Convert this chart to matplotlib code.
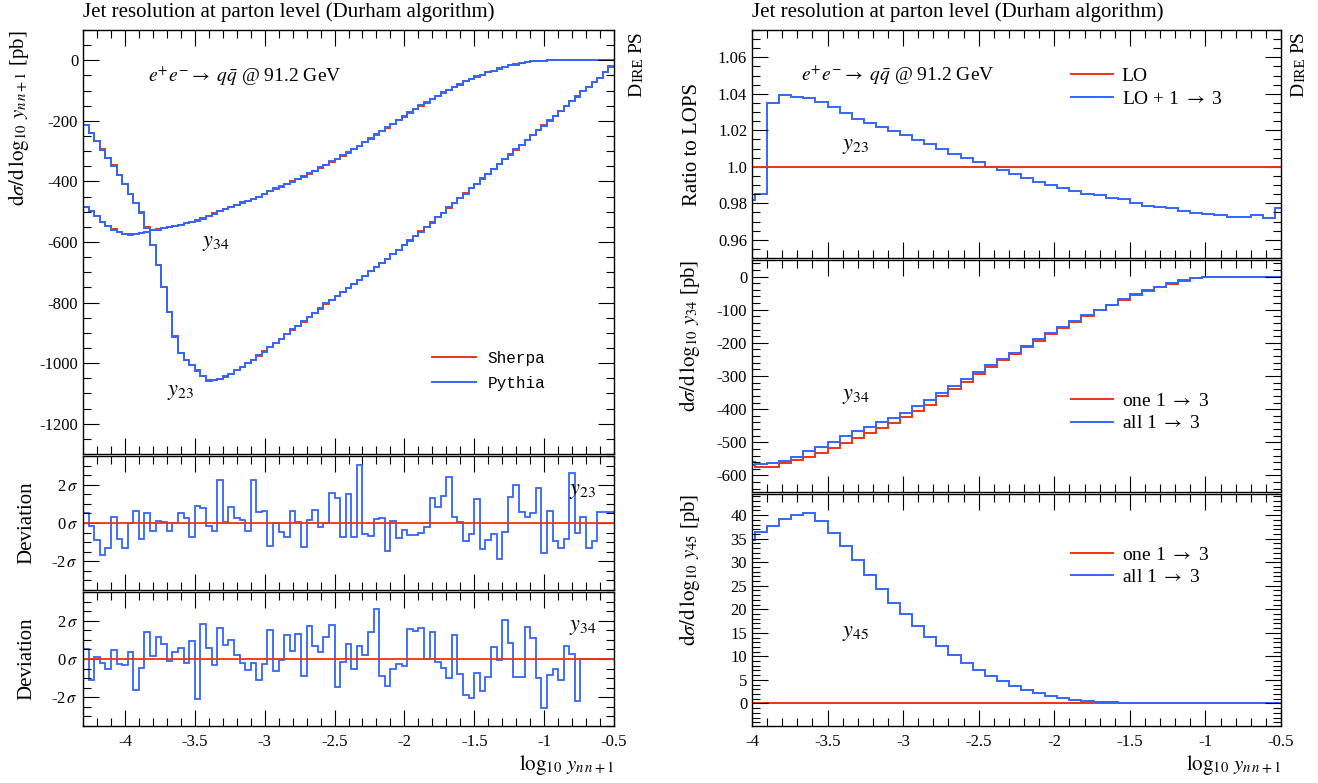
import numpy as np
import matplotlib
matplotlib.use("Agg")
import matplotlib.pyplot as plt
from matplotlib.ticker import MultipleLocator, FuncFormatter
from matplotlib.lines import Line2D

plt.rcParams["font.family"] = ["Liberation Serif", "DejaVu Serif"]
plt.rcParams["mathtext.fontset"] = "stix"
plt.rcParams["axes.unicode_minus"] = False
plt.rcParams["xtick.direction"] = "in"
plt.rcParams["ytick.direction"] = "in"
plt.rcParams["xtick.top"] = True
plt.rcParams["ytick.right"] = True
plt.rcParams["xtick.minor.visible"] = True
plt.rcParams["ytick.minor.visible"] = True
plt.rcParams["xtick.major.size"] = 11.5
plt.rcParams["ytick.major.size"] = 11.5
plt.rcParams["xtick.minor.size"] = 5.8
plt.rcParams["ytick.minor.size"] = 5.8

RED = "#ee3311"
BLUE = "#3366ff"

# ---- left column: Sherpa vs Pythia, 0.04 wide bins from -4.3 to -0.5 ----
left_range = (-4.3, -0.5)
y23_sherpa = [
    -215, -240, -267, -294, -322, -347, -379, -407, -442, -470, -503, -552, -610, -676, -750, -832,
    -912, -967, -988, -1007, -1024, -1044, -1057, -1057, -1053, -1046, -1035, -1022, -1013, -1000,
    -988, -975, -961, -947, -933, -920, -903, -889, -876, -863, -848, -834, -819, -804, -791,
    -778, -765, -752, -738, -725, -711, -697, -683, -669, -655, -640, -625, -610, -595, -580,
    -565, -550, -535, -519, -503, -487, -471, -455, -439, -423, -407, -391, -375, -359, -343,
    -327, -311, -295, -279, -263, -247, -231, -215, -199, -183, -167, -151, -135, -119, -103,
    -87, -72, -57, -40, -20,
]
y34_sherpa = [
    -486, -497, -514, -534, -547, -558, -567, -574, -576, -574, -571, -567, -562, -558, -555,
    -551, -547, -543, -538, -534, -530, -522, -514, -505, -498, -491, -484, -477, -470, -464,
    -458, -452, -442, -432, -424, -416, -408, -400, -392, -383, -374, -365, -355, -345, -335,
    -325, -315, -304, -293, -282, -270, -258, -246, -234, -222, -209, -197, -185, -173, -161,
    -150, -139, -128, -117, -107, -97, -88, -79, -70, -62, -54, -47, -40, -34, -28,
    -22, -17, -13, -9, -6, -4, -2, -1, 0, 0, 0, 0, 0, 0, 0,
    0, 0, 0, 0, 0,
]
# Pythia agrees with Sherpa within the statistical deviation shown below
y23_pythia = [
    -213, -241, -266, -295, -321, -348, -378, -408, -441, -471, -502, -553, -609, -677, -749, -831,
    -913, -966, -989, -1006, -1025, -1043, -1058, -1056, -1054, -1044, -1036, -1021, -1014, -999,
    -989, -974, -962, -946, -934, -919, -904, -888, -877, -862, -849, -833, -820, -803, -792,
    -777, -766, -751, -739, -724, -712, -696, -684, -668, -656, -639, -626, -609, -596, -579,
    -566, -549, -536, -518, -504, -486, -472, -454, -440, -422, -408, -390, -376, -358, -344,
    -326, -312, -294, -280, -262, -248, -230, -216, -198, -184, -166, -152, -134, -120, -102,
    -88, -71, -58, -39, -21,
]
y34_pythia = [
    -485, -498, -513, -535, -546, -559, -566, -575, -575, -575, -570, -568, -561, -559, -554,
    -552, -546, -544, -537, -535, -529, -523, -513, -506, -497, -492, -483, -478, -469, -465,
    -457, -453, -441, -433, -423, -417, -407, -401, -391, -384, -373, -366, -354, -346, -334,
    -326, -314, -305, -292, -283, -269, -259, -245, -235, -221, -210, -196, -186, -172, -162,
    -149, -140, -127, -118, -106, -98, -87, -80, -69, -63, -53, -48, -39, -35, -27,
    -23, -16, -14, -8, -7, -3, -2, -1, 0, 0, 0, 0, 0, 0, 0,
    0, 0, 0, 0, 0,
]
dev_y23 = [
    0.53, -0.18, -0.88, -1.66, -1.31, 0.32, -0.83, -1.31, 0.0, 0.62, -0.83, 0.50, -0.44, 0.11,
    0.05, -0.44, 0.0, 0.50, 0.28, -0.71, 0.88, 0.76, -0.18, -0.44, 2.27, 0.05, 0.81, 0.27, 0.14,
    -0.44, 2.23, 0.58, 0.64, -1.19, 0.0, -0.48, -0.71, 0.64, 0.05, -1.27, 0.14, 0.67, -0.21, 0.0,
    1.59, 1.29, -0.74, 1.52, -0.74, 3.01, -0.60, -0.69, 0.19, 0.27, -1.45, 0.11, -0.80, -0.39,
    -0.65, -0.65, -0.53, -0.21, 1.29, 0.85, 1.42, 2.39, 0.32, 0.05, -0.96, -0.60, 1.27, -1.36,
    -0.88, -0.57, -1.89, -0.48, 1.38, 1.96, 0.58, 0.32, 0.50, 1.82, -1.59, 0.64, -0.96, -1.31,
    -0.83, 2.62, -0.53, 0.32, -1.31, -0.96, 0.55, 0.55, 0.55,
]
dev_y34 = [
    0.52, -1.11, 0.10, -0.21, -0.50, 0.49, -0.24, -0.30, 0.37, -1.63, -0.47, 1.39, 0.14, 1.15,
    0.80, -0.09, 0.37, 0.56, -0.21, 0.96, -2.09, 1.81, 0.57, -0.33, 1.63, 0.75, 0.99, 0.23, -0.21,
    -0.56, -0.21, -1.10, -0.24, 1.51, -0.64, -0.03, 1.25, 0.40, 1.30, -0.90, 1.72, 0.70, 0.37,
    1.17, 1.77, -1.48, -0.16, 0.77, -0.54, 0.70, 0.23, 1.41, 2.61, -0.87, -1.39, -0.50, -0.26,
    -0.37, 1.57, 1.46, 1.62, -0.02, 1.39, -0.17, -0.49, -0.99, 1.27, -0.78, -1.88, -2.05, -0.75,
    -1.67, -0.92, 0.64, -0.05, 2.03, 0.83, -0.96, -0.96, 1.69, 1.11, -0.99, -2.56, -0.82, -0.50,
    -1.10, 0.70, 0.28, -2.19, 0.0, 0.0, 0.0, 0.0, 0.0, 0.0,
]

# ---- right column: 0.08 wide bins starting at -4.06 ----
right_start, right_width = -4.06, 0.08
ratio_lo13 = [
    0.982, 0.985, 1.035, 1.0395, 1.0385, 1.0378, 1.0354, 1.0327, 1.0294, 1.0264, 1.024, 1.0218,
    1.0196, 1.0173, 1.0149, 1.0124, 1.0096, 1.0069, 1.0046, 1.0027, 1.0, 0.9982, 0.996, 0.994,
    0.9918, 0.990, 0.9882, 0.9869, 0.9851, 0.9846, 0.9828, 0.9822, 0.9804, 0.9786, 0.9782,
    0.9773, 0.976, 0.9749, 0.9742, 0.9735, 0.9727, 0.9724, 0.9737, 0.9717, 0.9773,
]
y34_one = [
    -569, -574, -574, -564, -554, -544, -531, -516, -501, -486, -472, -457, -442, -424, -406,
    -386, -360, -338, -317, -295, -273, -253, -235, -214, -193, -174, -156, -136, -120, -102,
    -87, -71, -57, -44, -32, -21, -12, -5, -1, 0, 0, 0, 0, 0, 0,
]
y34_all = [
    -559, -567, -564, -556, -544, -527, -513, -498, -481, -467, -455, -440, -427, -411, -391,
    -372, -350, -330, -309, -289, -268, -248, -230, -209, -189, -171, -151, -134, -117, -100,
    -85, -69, -54, -42, -31, -20, -11, -5, -1, 0, 0, 0, 0, 0, 0,
]
y45_one = [0.0] * 45
y45_all = [
    34.7, 36.5, 37.8, 39.1, 40.0, 40.5, 38.7, 36.2, 33.5, 30.4, 27.2, 24.3, 21.4, 18.9, 16.4,
    14.2, 12.1, 10.3, 8.5, 7.1, 5.8, 4.7, 3.8, 2.9, 2.2, 1.65, 1.15, 0.8, 0.5, 0.36,
    0.2, 0.14, 0.07, 0.04, 0.02, 0.01, 0, 0, 0, 0, 0, 0, 0, 0, 0,
]

TITLE = "Jet resolution at parton level (Durham algorithm)"
PROCESS = r"$e^{+}e^{-}\rightarrow\ q\bar{q}$ @ 91.2 GeV"
XLABEL = r"$\log_{10}\,y_{n\,n+1}$"


def left_edges(vals):
    return np.linspace(left_range[0], left_range[1], len(vals) + 1)


def right_edges(vals):
    return right_start + right_width * np.arange(len(vals) + 1)


W, H = 1318, 783
fig = plt.figure(figsize=(W / 100, H / 100), dpi=100)


def box(x0, y0, x1, y1):
    # pixel box (top-left origin) -> figure fraction
    return [x0 / W, 1 - y1 / H, (x1 - x0) / W, (y1 - y0) / H]


ax_l = fig.add_axes(box(83, 30, 614, 454))
ax_d1 = fig.add_axes(box(83, 456, 614, 590))
ax_d2 = fig.add_axes(box(83, 592, 614, 726))
ax_r1 = fig.add_axes(box(752, 30, 1281, 258))
ax_r2 = fig.add_axes(box(752, 260, 1281, 492))
ax_r3 = fig.add_axes(box(752, 494, 1281, 726))

TICK_FS = 12
LAB_FS = 15
gfmt = FuncFormatter(lambda v, _: "%g" % v)
for ax in (ax_l, ax_d1, ax_d2):
    ax.set_xlim(*left_range)
for ax in (ax_r1, ax_r2, ax_r3):
    ax.set_xlim(-4.0, -0.5)
for ax in (ax_l, ax_d1, ax_d2, ax_r1, ax_r2, ax_r3):
    ax.xaxis.set_major_locator(MultipleLocator(0.5))
    ax.xaxis.set_minor_locator(MultipleLocator(0.1))
    ax.xaxis.set_major_formatter(gfmt)
    ax.tick_params(labelsize=TICK_FS, width=0.8, which="both")
    ax.tick_params(axis="x", pad=6)
    for s in ax.spines.values():
        s.set_linewidth(1.0)
for ax in (ax_l, ax_d1, ax_r1, ax_r2):
    ax.tick_params(labelbottom=False)

# ---- left top ----
ax_l.stairs(y23_sherpa, left_edges(y23_sherpa), color=RED, lw=1.4, baseline=None)
ax_l.stairs(y34_sherpa, left_edges(y34_sherpa), color=RED, lw=1.4, baseline=None)
ax_l.stairs(y23_pythia, left_edges(y23_pythia), color=BLUE, lw=1.4, baseline=None)
ax_l.stairs(y34_pythia, left_edges(y34_pythia), color=BLUE, lw=1.4, baseline=None)
ax_l.set_ylim(-1300, 100)
ax_l.yaxis.set_major_locator(MultipleLocator(200))
ax_l.yaxis.set_minor_locator(MultipleLocator(50))
ax_l.yaxis.set_major_formatter(gfmt)
ax_l.set_ylabel(r"$\mathrm{d}\sigma/\mathrm{d}\,\log_{10}\,y_{n\,n+1}$ [pb]", fontsize=LAB_FS, loc="top")
ax_l.yaxis.set_label_coords(-0.097, 1.0)
ax_l.text(0.122, 0.89, PROCESS, transform=ax_l.transAxes, fontsize=14, va="center")
ax_l.text(0.225, 0.497, r"$y_{34}$", transform=ax_l.transAxes, fontsize=16, va="center")
ax_l.text(0.158, 0.145, r"$y_{23}$", transform=ax_l.transAxes, fontsize=16, va="center")
mono = {"family": ["Liberation Mono", "DejaVu Sans Mono"], "size": 11.5}
ax_l.legend(handles=[Line2D([], [], color=RED, lw=1.4), Line2D([], [], color=BLUE, lw=1.4)],
            labels=["Sherpa", "Pythia"], prop=mono, frameon=False, loc="upper left",
            bbox_to_anchor=(0.658, 0.243), borderpad=0, borderaxespad=0,
            handlelength=2.75, handletextpad=0.7, labelspacing=0.6)

# ---- deviations ----
sig_fmt = FuncFormatter(lambda v, _: "%g$\\,\\sigma$" % v)
for ax, dev, lab in ((ax_d1, dev_y23, r"$y_{23}$"), (ax_d2, dev_y34, r"$y_{34}$")):
    ax.stairs(dev, left_edges(dev), color=BLUE, lw=1.3, baseline=None)
    ax.axhline(0, color=RED, lw=1.3)
    ax.set_ylim(-3.5, 3.5)
    ax.yaxis.set_major_locator(MultipleLocator(2))
    ax.yaxis.set_minor_locator(MultipleLocator(0.5))
    ax.yaxis.set_major_formatter(sig_fmt)
    ax.set_ylabel("Deviation", fontsize=LAB_FS)
    ax.yaxis.set_label_coords(-0.087, 0.5)
    ax.text(0.915, 0.735, lab, transform=ax.transAxes, fontsize=16, va="center")
ax_d2.set_xlabel(XLABEL, fontsize=LAB_FS, loc="right", labelpad=2)

# ---- right top: ratio ----
ax_r1.stairs(ratio_lo13, right_edges(ratio_lo13), color=BLUE, lw=1.4, baseline=None)
ax_r1.axhline(1.0, color=RED, lw=1.4)
ax_r1.set_ylim(0.95, 1.075)
ax_r1.yaxis.set_major_locator(MultipleLocator(0.02))
ax_r1.yaxis.set_minor_locator(MultipleLocator(0.005))


def ratio_label(v, _):
    s = "%.2f" % v
    return s[:-1] if s.endswith("0") else s


ax_r1.yaxis.set_major_formatter(FuncFormatter(ratio_label))
ax_r1.set_ylabel("Ratio to LOPS", fontsize=LAB_FS)
ax_r1.yaxis.set_label_coords(-0.095, 0.5)
ax_r1.text(0.093, 0.80, PROCESS, transform=ax_r1.transAxes, fontsize=14, va="center")
ax_r1.text(0.17, 0.49, r"$y_{23}$", transform=ax_r1.transAxes, fontsize=16, va="center")

# ---- right middle / bottom ----
ax_r2.stairs(y34_one, right_edges(y34_one), color=RED, lw=1.4, baseline=None)
ax_r2.stairs(y34_all, right_edges(y34_all), color=BLUE, lw=1.4, baseline=None)
ax_r2.set_ylim(-650, 50)
ax_r2.yaxis.set_major_locator(MultipleLocator(100))
ax_r2.yaxis.set_minor_locator(MultipleLocator(20))
ax_r2.yaxis.set_major_formatter(gfmt)
ax_r2.set_ylabel(r"$\mathrm{d}\sigma/\mathrm{d}\,\log_{10}\,y_{34}$ [pb]", fontsize=LAB_FS, loc="top")
ax_r2.yaxis.set_label_coords(-0.095, 1.0)
ax_r2.text(0.17, 0.41, r"$y_{34}$", transform=ax_r2.transAxes, fontsize=16, va="center")

ax_r3.stairs(y45_one, right_edges(y45_one), color=RED, lw=1.4, baseline=None)
ax_r3.stairs(y45_all, right_edges(y45_all), color=BLUE, lw=1.4, baseline=None)
ax_r3.set_ylim(-4.8, 44.5)
ax_r3.yaxis.set_major_locator(MultipleLocator(5))
ax_r3.yaxis.set_minor_locator(MultipleLocator(1))
ax_r3.yaxis.set_major_formatter(gfmt)
ax_r3.set_ylabel(r"$\mathrm{d}\sigma/\mathrm{d}\,\log_{10}\,y_{45}$ [pb]", fontsize=LAB_FS, loc="top")
ax_r3.yaxis.set_label_coords(-0.095, 1.0)
ax_r3.text(0.17, 0.40, r"$y_{45}$", transform=ax_r3.transAxes, fontsize=16, va="center")
ax_r3.set_xlabel(XLABEL, fontsize=LAB_FS, loc="right", labelpad=2)

serif_leg = {"size": 14}
leg_handles = [Line2D([], [], color=RED, lw=1.4), Line2D([], [], color=BLUE, lw=1.4)]
ax_r1.legend(handles=leg_handles, labels=["LO", r"LO + 1 $\rightarrow$ 3"], prop=serif_leg,
             frameon=False, loc="upper left", bbox_to_anchor=(0.603, 0.835), borderpad=0,
             borderaxespad=0, handlelength=2.15, handletextpad=0.45, labelspacing=0.25)
for ax, top in ((ax_r2, 0.43), (ax_r3, 0.775)):
    ax.legend(handles=leg_handles, labels=[r"one 1 $\rightarrow$ 3", r"all 1 $\rightarrow$ 3"],
              prop=serif_leg, frameon=False, loc="upper left", bbox_to_anchor=(0.603, top),
              borderpad=0, borderaxespad=0, handlelength=2.15, handletextpad=0.45,
              labelspacing=0.25)

# titles and the rotated small-caps generator tag
for x0 in (83, 752):
    fig.text(x0 / W, 1 - 12 / H, TITLE, fontsize=15, va="center", ha="left")

renderer = fig.canvas.get_renderer()
for x_right in (645, 1307):
    y = 1 - 31 / H
    for part, size, gap in (("PS", 14, 5), ("IRE", 11, 0), ("D", 14, 0)):
        t = fig.text(x_right / W, y, part, rotation=90, va="top", ha="right", fontsize=size)
        y -= (t.get_window_extent(renderer).height + gap) / H

fig.savefig("out.png", dpi=100)
